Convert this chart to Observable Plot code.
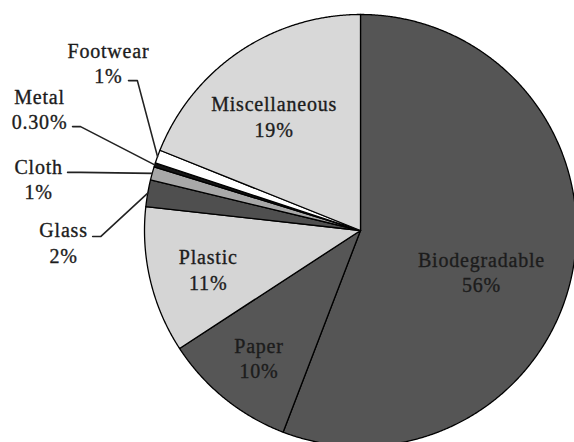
<!DOCTYPE html>
<html><head><meta charset="utf-8">
<script src="https://cdn.jsdelivr.net/npm/d3@7"></script>
<script src="https://cdn.jsdelivr.net/npm/@observablehq/plot@0.6"></script>
<style>body{margin:0;background:#fff;overflow:hidden} svg text{font-family:"Liberation Serif", serif !important;}</style>
</head><body><div id="chart"></div>
<script>
// ---- data ----
const categories = ["Biodegradable", "Paper", "Plastic", "Glass", "Cloth", "Metal", "Footwear", "Miscellaneous"];
const shares = [56, 10, 11, 2, 1, 0.3, 1, 19];
const shareLabels = ["56%", "10%", "11%", "2%", "1%", "0.30%", "1%", "19%"];

// ---- styling ----
const colors = ["#555555", "#565656", "#d5d5d5", "#4f4f4f", "#a8a8a8", "#151515", "#ffffff", "#d8d8d8"];
// label layout in unit-circle coordinates (radius = 1)
const labelPos = {
  Biodegradable: {x: 0.56, y: -0.19},
  Paper: {x: -0.47, y: -0.588},
  Plastic: {x: -0.705, y: -0.178},
  Miscellaneous: {x: -0.40, y: 0.53},
  Footwear: {x: -1.167, y: 0.778},
  Metal: {x: -1.486, y: 0.565},
  Cloth: {x: -1.49, y: 0.241},
  Glass: {x: -1.375, y: -0.053}
};
const leaderPos = {
  Footwear: [{x: -1.074, y: 0.694}, {x: -1.033, y: 0.694}],
  Metal: [{x: -1.333, y: 0.481}, {x: -1.296, y: 0.481}],
  Cloth: [{x: -1.356, y: 0.269}, {x: -1.296, y: 0.269}],
  Glass: [{x: -1.24, y: -0.028}, {x: -1.203, y: -0.028}]
};

const W = 574, H = 442, cx = 360, cy = 230, R = 216;

const rows = categories.map((c, i) => ({name: c, value: shares[i], label: shareLabels[i], color: colors[i]}));
const arcs = d3.pie().sort(null).value(d => d.value).startAngle(0).endAngle(2 * Math.PI)(rows);

const polar = (a, r) => ({x: r * Math.sin(a), y: r * Math.cos(a)});

const sliceMarks = arcs.map(a => {
  const pts = [{x: 0, y: 0}];
  const n = Math.max(2, Math.ceil((a.endAngle - a.startAngle) / 0.005));
  for (let k = 0; k <= n; k++) pts.push(polar(a.startAngle + (a.endAngle - a.startAngle) * k / n, 1));
  pts.push({x: 0, y: 0});
  return Plot.line(pts, {x: "x", y: "y", fill: a.data.color, stroke: "#000", strokeWidth: 1.3, strokeLinejoin: "round", curve: "linear"});
});

const leaderMarks = arcs.filter(a => leaderPos[a.data.name]).map(a => {
  const mid = (a.startAngle + a.endAngle) / 2;
  const pts = [...leaderPos[a.data.name], polar(mid, 1.0)];
  return Plot.line(pts, {x: "x", y: "y", stroke: "#222", strokeWidth: 1.6});
});

const labelData = rows.map(d => ({...d, ...labelPos[d.name]}));

const chart = Plot.plot({
  width: W, height: H,
  margin: 0,
  x: {domain: [-1, 1], range: [cx - R, cx + R], axis: null},
  y: {domain: [-1, 1], range: [cy + R, cy - R], axis: null},
  style: {fontFamily: "Liberation Serif", letterSpacing: "0.8px", background: "#fff", overflow: "hidden"},
  marks: [
    ...sliceMarks,
    ...leaderMarks,
    Plot.text(labelData, {x: "x", y: "y", text: d => d.name + "\n" + d.label, fontSize: 20, fontFamily: "Liberation Serif", lineHeight: 1.27, textAnchor: "middle", fill: "#1c1c1c", stroke: "#1c1c1c", strokeWidth: 0.35})
  ]
});
document.getElementById("chart").appendChild(chart);
</script>
</body></html>
